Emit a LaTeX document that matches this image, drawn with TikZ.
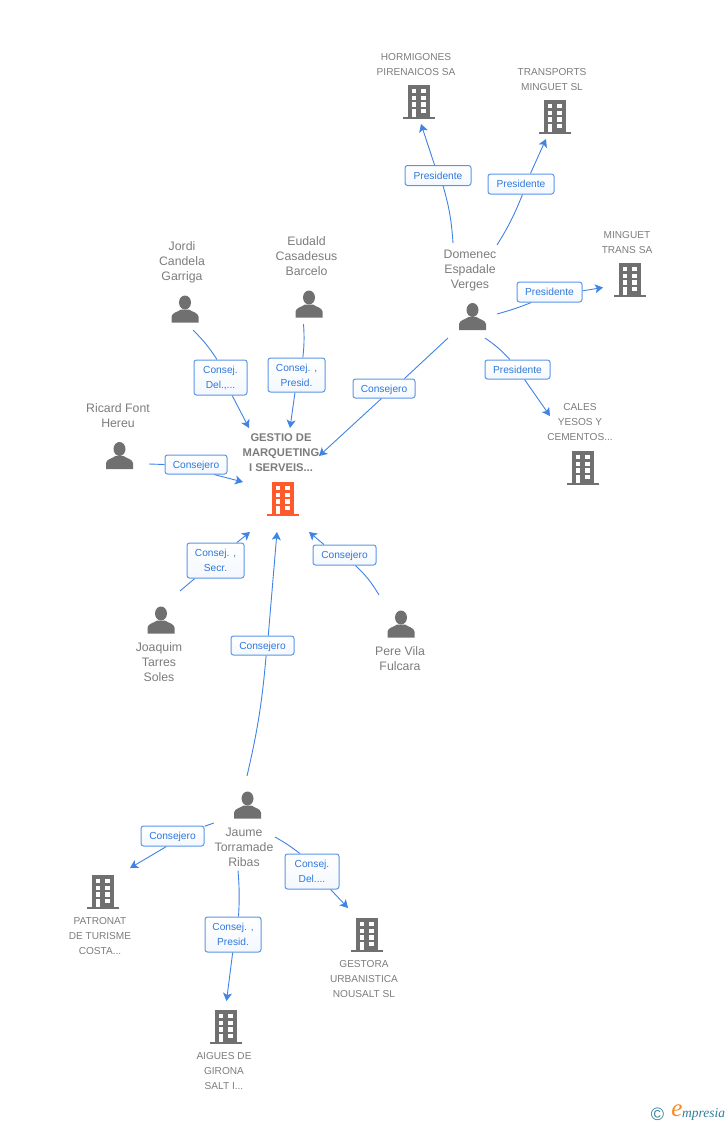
\documentclass[tikz,border=0pt]{standalone}
\usepackage{fontspec}
\setmainfont{Liberation Sans}
\newfontfamily\logofont{Liberation Serif}
\usetikzlibrary{arrows.meta,backgrounds}
\definecolor{wireblue}{HTML}{3F83E4}
\definecolor{boxblue}{HTML}{5A96E8}
\definecolor{labelblue}{HTML}{2F78DC}
\definecolor{icongrey}{HTML}{707070}
\definecolor{textgrey}{HTML}{7C7C7C}
\definecolor{mainorange}{HTML}{FF5A2B}
\definecolor{logoteal}{HTML}{2F7F98}
\definecolor{logoorange}{HTML}{F58A1F}
\tikzset{
    rolebox/.style={draw=boxblue,line width=1pt,rounded corners=2.5pt,top color=white,bottom color=boxblue!7,
        text=labelblue,font=\fontsize{10.2}{15}\selectfont,align=center,inner sep=0pt},
    roleline/.style={rolebox,text height=7.5pt,text depth=0pt},
    wire/.style={draw=wireblue,line width=0.9pt},
    personname/.style={text=textgrey,font=\fontsize{12.3}{15}\selectfont,align=center,inner sep=0pt},
    firmname/.style={text=textgrey,font=\fontsize{10.1}{15}\selectfont,align=center,inner sep=0pt},
    mainname/.style={text=textgrey,font=\fontsize{11.2}{15}\selectfont\bfseries,align=center,inner sep=0pt},
    building/.pic={
        \fill[pic actions] (-11,-17) rectangle (11,15);
        \fill[pic actions] (-16,15) rectangle (16,17);
        \foreach \wy in {-13,-6.4,0.2}{
            \fill[white] (-7.3,\wy) rectangle (-2.6,\wy+4.4);
            \fill[white] (2.4,\wy) rectangle (7.4,\wy+4.4);
        }
        \fill[white] (-7.3,7) rectangle (-2.6,15);
        \fill[white] (2.4,7) rectangle (7.4,11.2);
    },
    person/.pic={
        \fill[icongrey] (0,-6.5) ellipse (6 and 7);
        \fill[icongrey] (-13.5,13.5) -- (-13.5,7.5) .. controls (-13,3.5) and (-7,3) .. (-4,0.5)
            -- (4,0.5) .. controls (7,3) and (13,3.5) .. (13.5,7.5) -- (13.5,13.5) -- cycle;
    }
}
\begin{document}
\begin{tikzpicture}[x=1pt,y=-1pt]
    \useasboundingbox (0,0) rectangle (728,1125);

    % firms
    \pic[icongrey] at (419,102) {building};
    \pic[icongrey] at (555,117) {building};
    \pic[icongrey] at (630,280) {building};
    \pic[icongrey] at (583,468) {building};
    \pic[icongrey] at (103,892) {building};
    \pic[icongrey] at (367,935) {building};
    \pic[icongrey] at (226,1027) {building};
    \pic[mainorange] at (283,499) {building};

    % people
    \pic at (472.5,316.5) {person};
    \pic at (185,309) {person};
    \pic at (309,304) {person};
    \pic at (119.5,455.5) {person};
    \pic at (161,620) {person};
    \pic at (401,624) {person};
    \pic at (247.5,805) {person};

    % names
    \node[mainname] (gestio) at (281,453) {GESTIO DE\\MARQUETING\\I SERVEIS...};
    \node[firmname] (hormigones) at (416,64.5) {HORMIGONES\\PIRENAICOS SA};
    \node[firmname] (transports) at (552,79.5) {TRANSPORTS\\MINGUET SL};
    \node[firmname] (minguet) at (627,242.5) {MINGUET\\TRANS SA};
    \node[firmname] (cales) at (580,422.5) {CALES\\YESOS Y\\CEMENTOS...};
    \node[firmname] (patronat) at (100,936.5) {PATRONAT\\DE TURISME\\COSTA...};
    \node[firmname] (gestora) at (364,979.5) {GESTORA\\URBANISTICA\\NOUSALT SL};
    \node[firmname] (aigues) at (224,1071.5) {AIGUES DE\\GIRONA\\SALT I...};
    \node[personname] (domenec) at (470,271) {Domenec\\Espadale\\Verges};
    \node[personname] (jordi) at (182,262) {Jordi\\Candela\\Garriga};
    \node[personname] (eudald) at (306.5,256) {Eudald\\Casadesus\\Barcelo};
    \node[personname] (ricard) at (118,415.5) {Ricard Font\\Hereu};
    \node[personname] (joaquim) at (159,662) {Joaquim\\Tarres\\Soles};
    \node[personname] (pere) at (400,658.5) {Pere Vila\\Fulcara};
    \node[personname] (jaume) at (244,847) {Jaume\\Torramade\\Ribas};

    % role labels
    \node[roleline,minimum width=66pt,minimum height=20pt] (rhormigones) at (438,175.5) {Presidente};
    \node[roleline,minimum width=66pt,minimum height=20pt] (rtransports) at (521,184) {Presidente};
    \node[roleline,minimum width=65pt,minimum height=20pt] (rminguet) at (549.5,292) {Presidente};
    \node[roleline,minimum width=65pt,minimum height=19pt] (rcales) at (517.5,369.5) {Presidente};
    \node[roleline,minimum width=62pt,minimum height=19pt] (rdomenec) at (384,388.5) {Consejero};
    \node[rolebox,minimum width=53pt,minimum height=35pt] (rjordi) at (220.5,377.5) {Consej.\\Del.,...};
    \node[rolebox,minimum width=57pt,minimum height=34pt] (reudald) at (296.5,375) {Consej. ,\\Presid.};
    \node[roleline,minimum width=62pt,minimum height=19pt] (rricard) at (196,464.5) {Consejero};
    \node[rolebox,minimum width=57pt,minimum height=35pt] (rjoaquim) at (215.5,560.5) {Consej. ,\\Secr.};
    \node[roleline,minimum width=63pt,minimum height=20pt] (rpere) at (344.5,555) {Consejero};
    \node[roleline,minimum width=63pt,minimum height=19pt] (rjaume) at (262.5,645.5) {Consejero};
    \node[roleline,minimum width=63pt,minimum height=20pt] (rpatronat) at (172.5,836) {Consejero};
    \node[rolebox,minimum width=54pt,minimum height=35pt] (rgestora) at (312,871.5) {Consej.\\Del....};
    \node[rolebox,minimum width=56pt,minimum height=35pt] (raigues) at (233,934.5) {Consej. ,\\Presid.};

    % free ends of the connectors
    \coordinate (shormigones) at (453,243);
    \coordinate (thormigones) at (421,124);
    \coordinate (stransports) at (497,245);
    \coordinate (ttransports) at (546,139);
    \coordinate (sminguet) at (497,314);
    \coordinate (tminguet) at (603,287.5);
    \coordinate (scales) at (485,338);
    \coordinate (tcales) at (550,416);
    \coordinate (sdomenec) at (448,338);
    \coordinate (tdomenec) at (319,456);
    \coordinate (sjordi) at (193,330);
    \coordinate (tjordi) at (249,428);
    \coordinate (seudald) at (303.5,324);
    \coordinate (teudald) at (290,428);
    \coordinate (sricard) at (149,464);
    \coordinate (tricard) at (243,482);
    \coordinate (sjoaquim) at (180,591);
    \coordinate (tjoaquim) at (250,532);
    \coordinate (sjaume) at (247,776);
    \coordinate (tjaume) at (277,532);
    \coordinate (spere) at (379,595);
    \coordinate (tpere) at (309,532);
    \coordinate (spatronat) at (214,823);
    \coordinate (tpatronat) at (130,868);
    \coordinate (sgestora) at (275,837);
    \coordinate (tgestora) at (348,908);
    \coordinate (saigues) at (238,870.5);
    \coordinate (taigues) at (226.5,1001);

    % in = anchor angle towards the person, out = anchor angle towards the firm
    \begin{scope}[on background layer]
        \foreach \rel/\bend/\inang/\outang in {hormigones/-6/-64.5/108,transports/-5/-82/48,minguet/-3/-150/2,
            cales/6/127/-55,domenec/0/26.5/-104,jordi/6/101/-57,eudald/5/70.5/-95,ricard/0/180/-29,
            joaquim/0/-139.5/40,jaume/-4/-70/60,pere/-8/-44/153,patronat/0/17/-120,gestora/4/124.5/-44,aigues/4/73/-91}{
            \draw[wire] (s\rel) to[bend left=\bend] (r\rel.\inang);
            \draw[wire,-{Stealth[length=8pt,width=9pt,inset=2pt]}] (r\rel.\outang) -- (t\rel);
        }
    \end{scope}

    % logo
    \node[text=logoteal,inner sep=0pt,font=\fontsize{18}{18}\selectfont] (logoc) at (657.5,1114) {©};
    \node[text=logoorange,inner sep=0pt,font=\logofont\itshape\fontsize{25}{25}\selectfont] (logoe) at (677,1111) {e};
    \node[text=logoteal,inner sep=0pt,anchor=west,font=\logofont\itshape\fontsize{13.5}{14}\selectfont] (logotext) at (682,1114.5) {mpresia};
\end{tikzpicture}
\end{document}
